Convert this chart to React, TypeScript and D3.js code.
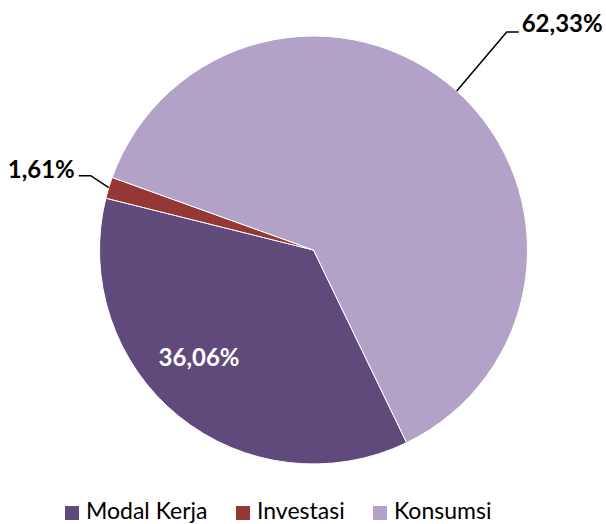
import React from "react";
import * as d3 from "d3";

const categories = ["Modal Kerja", "Investasi", "Konsumsi"];
const values = [36.06, 1.61, 62.33];
const labels = ["36,06%", "1,61%", "62,33%"];
const colors = ["#604A7B", "#953735", "#B3A2C7"];

const W = 606, H = 524;
const cx = 313.5, cy = 250, R = 214;
const startDeg = 154.2;

export default function App() {
  const pie = d3.pie<number>().sort(null)
    .startAngle((startDeg * Math.PI) / 180)
    .endAngle(((startDeg + 360) * Math.PI) / 180);
  const arcs = pie(values);
  const arc = d3.arc<d3.PieArcDatum<number>>().innerRadius(0).outerRadius(R);
  const pt = (a: number, r: number): [number, number] => [Math.sin(a) * r, -Math.cos(a) * r];

  const mid = (d: d3.PieArcDatum<number>) => (d.startAngle + d.endAngle) / 2;

  const legendX = [65, 236, 373];

  return (
    <svg width={W} height={H} style={{ position: "absolute", left: 0, top: 0 }}
      fontFamily="Lato, 'Open Sans', sans-serif">
      <g transform={`translate(${cx},${cy})`}>
        {arcs.map((d, i) => (
          <path key={i} d={arc(d) || ""} fill={colors[i]} stroke="#fff" strokeWidth={1} />
        ))}
        {(() => {
          const [x, y] = pt(mid(arcs[0]) + (8 * Math.PI) / 180, R * 0.73);
          return (
            <text x={x} y={y} textAnchor="middle" dominantBaseline="central"
              fill="#fff" fontWeight="bold" fontSize={24}>{labels[0]}</text>
          );
        })()}
        {(() => {
          const [x0, y0] = pt(mid(arcs[1]), R);
          const x1 = x0 - 18, y1 = y0 - 12;
          const x2 = x1 - 12;
          return (
            <g>
              <polyline points={`${x0},${y0} ${x1},${y1} ${x2},${y1}`} fill="none" stroke="#000" strokeWidth={1.5} />
              <text x={x2 - 4} y={y1 - 7} textAnchor="end" dominantBaseline="central"
                fill="#000" fontWeight="bold" fontSize={24}>{labels[1]}</text>
            </g>
          );
        })()}
        {(() => {
          const [x0, y0] = pt(mid(arcs[2]), R);
          const x1 = x0 + 50, y1 = y0 - 59;
          const x2 = x1 + 12;
          return (
            <g>
              <polyline points={`${x0},${y0} ${x1},${y1} ${x2},${y1}`} fill="none" stroke="#000" strokeWidth={1.5} />
              <text x={x2 + 3} y={y1 - 9} textAnchor="start" dominantBaseline="central"
                fill="#000" fontWeight="bold" fontSize={24}>{labels[2]}</text>
            </g>
          );
        })()}
      </g>
      <g>
        {categories.map((c, i) => (
          <g key={c}>
            <rect x={legendX[i]} y={506} width={14} height={14} fill={colors[i]} />
            <text x={legendX[i] + 21} y={519} fontSize={23} fill="#000">{c}</text>
          </g>
        ))}
      </g>
    </svg>
  );
}
